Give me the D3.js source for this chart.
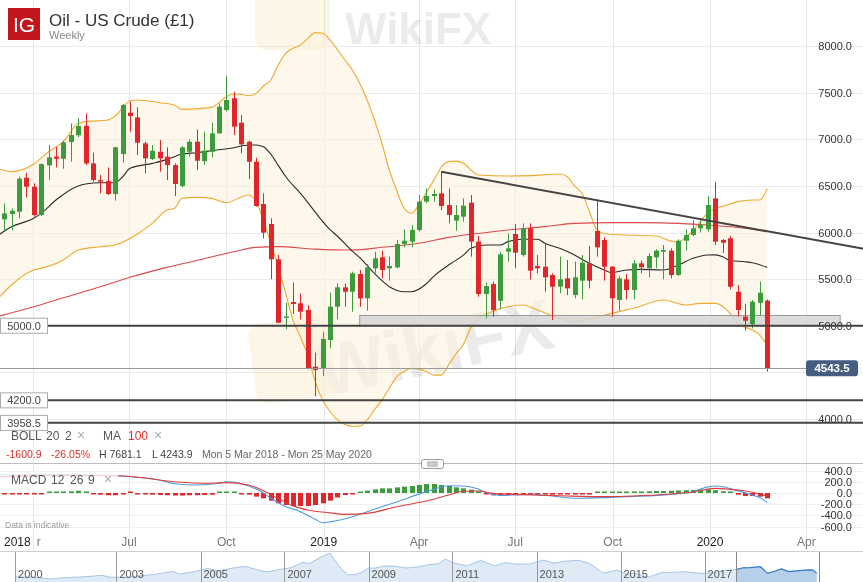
<!DOCTYPE html>
<html><head><meta charset="utf-8">
<script src="https://cdn.jsdelivr.net/npm/d3@7/dist/d3.min.js"></script>
<style>body{margin:0;background:#fff;}svg{display:block;font-family:"Liberation Sans",Arial,Helvetica,sans-serif;}</style>
</head><body><svg id="c" width="863" height="582"></svg>
<script>
// ---------- DATA ----------
const dates = ["2018-03-05","2018-03-12","2018-03-19","2018-03-26","2018-04-02","2018-04-09","2018-04-16","2018-04-23","2018-04-30","2018-05-07","2018-05-14","2018-05-21","2018-05-28","2018-06-04","2018-06-11","2018-06-18","2018-06-25","2018-07-02","2018-07-09","2018-07-16","2018-07-23","2018-07-30","2018-08-06","2018-08-13","2018-08-20","2018-08-27","2018-09-03","2018-09-10","2018-09-17","2018-09-24","2018-10-01","2018-10-08","2018-10-15","2018-10-22","2018-10-29","2018-11-05","2018-11-12","2018-11-19","2018-11-26","2018-12-03","2018-12-10","2018-12-17","2018-12-24","2018-12-31","2019-01-07","2019-01-14","2019-01-21","2019-01-28","2019-02-04","2019-02-11","2019-02-18","2019-02-25","2019-03-04","2019-03-11","2019-03-18","2019-03-25","2019-04-01","2019-04-08","2019-04-15","2019-04-22","2019-04-29","2019-05-06","2019-05-13","2019-05-20","2019-05-27","2019-06-03","2019-06-10","2019-06-17","2019-06-24","2019-07-01","2019-07-08","2019-07-15","2019-07-22","2019-07-29","2019-08-05","2019-08-12","2019-08-19","2019-08-26","2019-09-02","2019-09-09","2019-09-16","2019-09-23","2019-09-30","2019-10-07","2019-10-14","2019-10-21","2019-10-28","2019-11-04","2019-11-11","2019-11-18","2019-11-25","2019-12-02","2019-12-09","2019-12-16","2019-12-23","2019-12-30","2020-01-06","2020-01-13","2020-01-20","2020-01-27","2020-02-03","2020-02-10","2020-02-17","2020-02-24"];
const open  = [6141,6198,6223,6588,6491,6187,6720,6813,6791,6970,7042,7145,6741,6562,6552,6412,6841,7285,7235,6956,6788,6866,6813,6723,6498,6866,6974,6766,6866,7063,7313,7439,7177,6974,6759,6305,6091,5712,5090,5254,5240,5169,4561,4543,4847,5204,5412,5365,5555,5294,5616,5734,5616,5626,5877,5902,6027,6331,6391,6420,6295,6127,6170,6320,5902,5340,5447,5268,5794,5984,5758,6045,5641,5633,5544,5419,5508,5330,5483,5669,6016,5919,5633,5276,5498,5383,5669,5616,5734,5794,5805,5544,5912,5973,6045,6034,6366,5920,5938,5365,5097,5018,5247,5269];
const high  = [6312,6259,6598,6641,6527,6741,6938,6920,6985,7170,7224,7277,6856,6616,6698,6920,7378,7403,7342,6974,6938,6992,6913,6741,6927,6999,7106,7081,7177,7385,7681.1,7510,7260,6985,6802,6420,6152,5759,5247,5462,5347,5219,4711,4936,5354,5455,5455,5580,5598,5662,5794,5805,5741,5920,6034,6080,6402,6473,6463,6652,6473,6295,6366,6402,5962,5462,5473,5794,5991,6091,6098,6098,5758,5884,5562,5741,5705,5687,5758,5855,6348,5948,5640,5533,5555,5705,5698,5777,5819,5866,5830,5927,6034,6134,6130,6391,6545,5930,5963,5437,5233,5276,5473,5283];
const low   = [6019,6026,6151,6377,6169,6176,6562,6698,6684,6759,7020,6723,6545,6420,6402,6341,6748,7081,6831,6634,6777,6652,6563,6391,6484,6813,6670,6723,6806,7056,7296,7045,6849,6573,6277,5937,5500,5026,4961,5126,5069,4532,4243.9,4461,4758,5069,5204,5151,5204,5162,5562,5508,5483,5615,5841,5841,6009,6313,6331,6241,6098,6020,6116,5741,5311,5079,5097,5176,5687,5616,5741,5497,5562,5365,5061,5347,5330,5294,5283,5401,5741,5483,5097,5161,5283,5283,5562,5519,5616,5497,5508,5533,5805,5962,6000,6009,5866,5780,5390,5097,4947,4972,5115,4508];
const close = [6205,6234,6577,6491,6187,6734,6806,6791,6967,7045,7142,6741,6562,6545,6412,6913,7367,7249,6963,6795,6877,6795,6723,6520,6913,6974,6770,6877,7063,7349,7421,7135,6945,6759,6284,5998,5712,5032,5100,5233,5151,4543,4525,4858,5204,5412,5365,5562,5294,5626,5723,5598,5641,5877,5912,6027,6331,6391,6413,6284,6188,6188,6288,5902,5340,5426,5168,5766,5830,5784,6045,5591,5616,5519,5419,5498,5401,5519,5676,5483,5841,5633,5294,5508,5383,5669,5626,5748,5805,5812,5544,5912,5973,6045,6080,6295,5902,5891,5419,5169,5054,5258,5354,4543.5];

// Bollinger (20,2) and MA lines: [week number (1 = first candle), value]
const bbUpper = [[0,6690],[2,6652],[5,6734],[7,6866],[9,6974],[11,7170],[12,7188],[15,7206],[16,7249],[18,7413],[19,7421],[22,7392],[24,7367],[25,7320],[29,7342],[31,7456],[32,7485],[33,7482],[34,7467],[35,7492],[36,7571],[37,7635],[38,7796],[39,7922],[40,7975],[41,8011],[42,8082],[43,8143],[44,8136],[45,8064],[47,7850],[48,7743],[49,7600],[50,7421],[51,7206],[52,6956],[53,6670],[54,6450],[55,6260],[56,6206],[57,6300],[58,6430],[59,6560],[60,6700],[61,6760],[62,6765],[63,6742],[65,6617],[69,6606],[72,6610],[76,6627],[77,6600],[78,6500],[79,6420],[80,6230],[81,6030],[82,5990],[85,5973],[89,5962],[91,5910],[92,5895],[93,5950],[94,6020],[95,6120],[96,6210],[97,6260],[98,6280],[100,6331],[102,6348],[103,6348],[104,6470]];
const bbMiddle = [[0,5960],[2,6062],[5,6152],[6,6205],[8,6348],[11,6498],[12,6520],[14,6534],[16,6534],[17,6598],[18,6688],[21,6741],[23,6784],[24,6813],[25,6841],[27,6856],[29,6877],[32,6909],[34,6938],[35,6938],[36,6920],[37,6840],[38,6720],[39,6600],[41,6420],[45,6030],[46,5960],[48,5800],[49,5730],[51,5560],[53,5419],[55,5365],[56,5365],[58,5450],[59,5530],[61,5651],[63,5758],[64,5830],[66,5866],[68,5866],[69,5902],[71,5927],[73,5927],[74,5884],[76,5830],[78,5758],[80,5669],[82,5598],[83,5569],[85,5598],[87,5605],[90,5598],[92,5651],[94,5723],[96,5758],[97,5760],[98,5741],[99,5700],[101,5687],[102,5676],[104,5626]];
const bbLower = [[0,5276],[2,5437],[5,5597],[6,5615],[9,5705],[11,5812],[14,5848],[16,5866],[19,5984],[21,6098],[23,6241],[24,6259],[25,6366],[27,6377],[29,6366],[31,6320],[33,6377],[34,6402],[35,6330],[36,6134],[37,5884],[38,5633],[39,5348],[40,5061],[41,4880],[42,4680],[43,4400],[44,4200],[45,4080],[46,3990],[47,3940],[48,3920],[49,3925],[50,3990],[51,4100],[52,4203],[53,4330],[54,4454],[55,4510],[56,4543],[57,4535],[58,4510],[59,4470],[60,4470],[61,4580],[62,4700],[63,4800],[64,4980],[65,5080],[66,5120],[69,5204],[71,5222],[73,5169],[76,5079],[78,5044],[80,5069],[83,5133],[86,5187],[90,5276],[93,5222],[95,5240],[97,5240],[99,5133],[100,5026],[102,4954],[103,4900],[104,4793]];
const ma100 = [[0,5097],[5,5204],[9,5300],[14,5419],[18,5520],[23,5626],[27,5700],[32,5794],[35,5841],[38,5848],[43,5822],[48,5812],[52,5841],[57,5884],[61,5948],[65,5990],[69,6027],[74,6063],[78,6098],[83,6106],[87,6106],[92,6098],[96,6080],[101,6045],[104,6009]];

// MACD (12,26,9)
const macdLine = [[0,321],[8,330],[13,320],[17,304],[19,280],[22,232],[24,165],[27,143],[30,173],[31,200],[32,195],[33,165],[35,70],[36,0],[37,-95],[39,-240],[41,-333],[43,-470],[44,-530],[45,-515],[48,-423],[50,-333],[52,-244],[54,-160],[57,-20],[59,65],[61,130],[63,125],[65,70],[66,10],[68,-42],[70,-35],[72,-24],[75,-54],[78,-95],[82,-83],[85,-65],[91,-24],[94,25],[96,110],[97,125],[98,113],[100,42],[102,-36],[103,-80],[104,-167]];
const signalLine = [[0,290],[8,310],[13,312],[17,304],[24,202],[28,173],[31,185],[34,143],[36,40],[38,-100],[40,-230],[42,-304],[45,-355],[47,-381],[50,-363],[54,-244],[59,-113],[61,-36],[63,30],[65,36],[67,-6],[70,-24],[77,-54],[82,-65],[86,-54],[91,-18],[94,18],[97,83],[100,54],[102,13],[104,-54]];
const macdHist = [-15,-15,-10,-10,-15,-5,5,10,15,30,40,15,-10,-30,-40,-40,-15,0,-5,-25,-30,-35,-40,-45,-45,-40,-40,-35,-30,10,15,5,-5,-30,-65,-95,-137,-184,-214,-232,-232,-232,-214,-184,-137,-80,-36,-15,5,42,65,83,83,100,113,125,143,161,161,143,125,101,83,60,30,-25,-42,-42,-36,-36,-25,-20,-20,-25,-30,-25,-20,-15,-10,-5,10,10,10,12,5,5,20,30,35,35,40,45,50,55,60,65,50,30,10,-30,-55,-55,-65,-95];

// drawings / levels
const trendDates = ["2019-04-22","2020-05-25"], trendVals = [6652, 5825];
const zoneDates = ["2019-02-04","2020-05-03"], zoneVals = [5000, 5110];
const levels = [5000, 4200, 3958.5];
const lastPrice = 4543.5;
const priceTicks = [8000,7500,7000,6500,6000,5500,5000,4000];
const gridVals = [4000,4500,5000,5500,6000,6500,7000,7500,8000];
const macdTicks = [400,200,0,-200,-400,-600];
const monthTicks = ["2018-04-01","2018-07-01","2018-10-01","2019-01-01","2019-04-01","2019-07-01","2019-10-01","2020-01-01","2020-04-01"];
const monthLabels = ["r","Jul","Oct","2019","Apr","Jul","Oct","2020","Apr"];   // first "Apr" is hidden behind "2018", only its "r" shows
const firstYearLabel = "2018";

// navigator (long history)
const navDates = ["2001-01","2001-06","2001-11","2002-03","2002-09","2003-02","2003-04","2003-09","2004-01","2004-05","2004-10","2004-12","2005-04","2005-08","2005-11","2006-04","2006-07","2006-11","2007-01","2007-05","2007-08","2007-11","2008-01","2008-03","2008-05","2008-07","2008-08","2008-10","2008-12","2009-02","2009-04","2009-06","2009-08","2009-10","2010-01","2010-05","2010-08","2010-11","2011-02","2011-04","2011-06","2011-10","2012-02","2012-06","2012-09","2012-12","2013-04","2013-08","2013-11","2014-02","2014-06","2014-09","2014-11","2015-01","2015-05","2015-08","2015-10","2016-01","2016-02","2016-06","2016-10","2016-12","2017-03","2017-06","2017-09","2017-12","2018-03","2018-05","2018-07","2018-10","2018-12","2019-02","2019-04","2019-06","2019-09","2019-12","2020-01","2020-02"];
const navVals = [29,27,19,25,29,36,27,27,34,40,54,42,52,68,57,72,77,58,52,64,72,96,90,108,126,140,115,70,38,39,50,70,70,78,80,70,75,85,90,112,95,80,105,80,95,88,88,107,93,102,106,92,70,46,60,40,47,30,28,50,50,53,48,44,50,60,62,71,72,76,45,55,66,53,58,61,60,45];
const navTickDates = ["2001-01-01","2003-06-01","2005-06-01","2007-06-01","2009-06-01","2011-06-01","2013-06-01","2015-06-01","2017-06-01"];
const navTickLabels = ["2000","2003","2005","2007","2009","2011","2013","2015","2017"];

// ---------- CHART ----------
const W = 863, H = 582;
const svg = d3.select("#c");
const parse = d3.utcParse("%Y-%m-%d");
const parseM = d3.utcParse("%Y-%m");
const x = d3.scaleUtc().domain([parse("2018-07-01"), parse("2020-01-01")]).range([129, 710]);
const y = d3.scaleLinear().domain([4000, 8000]).range([419, 46]);
const ym = d3.scaleLinear().domain([-600, 400]).range([526.6, 470.6]);
const t0 = parse(dates[0]);
const wx = n => x(d3.utcDay.offset(t0, (n - 1) * 7));
const GREEN = "#3b9c3b", RED = "#e0252b";

svg.append("rect").attr("width", W).attr("height", H).attr("fill", "#fff");

// grid
const grid = svg.append("g");
grid.selectAll(".vg").data(monthTicks).join("line")
  .attr("x1", d => Math.round(x(parse(d))) + 0.5).attr("x2", d => Math.round(x(parse(d))) + 0.5)
  .attr("y1", 0).attr("y2", 550).attr("stroke", "#e6e6e6");
grid.selectAll(".hg").data(gridVals).join("line")
  .attr("x1", 0).attr("x2", W).attr("y1", d => Math.round(y(d)) + 0.5).attr("y2", d => Math.round(y(d)) + 0.5)
  .attr("stroke", "#ebebeb");
grid.selectAll(".mg").data(macdTicks).join("line")
  .attr("x1", 0).attr("x2", W).attr("y1", d => Math.round(ym(d)) + 0.5).attr("y2", d => Math.round(ym(d)) + 0.5)
  .attr("stroke", "#efefef");

// watermarks
const wm = svg.append("g").attr("opacity", 0.17);
wm.append("rect").attr("x", 255).attr("y", -35).attr("width", 75).attr("height", 85).attr("rx", 12).attr("fill", "#f2c26a");
wm.append("text").attr("x", 345).attr("y", 44).attr("font-size", 44).attr("font-weight", "bold").attr("fill", "#8a8a8a").text("WikiFX");
wm.append("g").attr("transform", "translate(292,360) rotate(-8)")
  .append("rect").attr("x", -40).attr("y", -40).attr("width", 80).attr("height", 80).attr("rx", 12).attr("fill", "#f2c26a");
wm.append("text").attr("transform", "translate(440,372) rotate(-12)").attr("text-anchor", "middle")
  .attr("font-size", 72).attr("font-weight", "bold").attr("fill", "#8a8a8a").text("WikiFX");

// price panel
svg.append("clipPath").attr("id", "pc").append("rect").attr("x", 0).attr("y", 0).attr("width", W).attr("height", 428);
const P = svg.append("g").attr("clip-path", "url(#pc)");
const ln = d3.line().x(d => wx(d[0])).y(d => y(d[1])).curve(d3.curveMonotoneX);
const upPath = ln(bbUpper);
const loRev = ln(bbLower.slice().reverse());
P.append("path").attr("d", upPath + "L" + loRev.slice(1) + "Z").attr("fill", "#fdf0dc").attr("opacity", 0.55);
P.append("path").attr("d", upPath).attr("fill", "none").attr("stroke", "#f0a92e").attr("stroke-width", 1.1);
P.append("path").attr("d", ln(bbLower)).attr("fill", "none").attr("stroke", "#f0a92e").attr("stroke-width", 1.1);
P.append("path").attr("d", ln(ma100)).attr("fill", "none").attr("stroke", "#d94a4a").attr("stroke-width", 1.1);
P.append("path").attr("d", ln(bbMiddle)).attr("fill", "none").attr("stroke", "#2b2b2b").attr("stroke-width", 1.1);

// zone
P.append("rect").attr("x", x(parse(zoneDates[0]))).attr("y", y(zoneVals[1]))
  .attr("width", x(parse(zoneDates[1])) - x(parse(zoneDates[0]))).attr("height", y(zoneVals[0]) - y(zoneVals[1]))
  .attr("fill", "#d6d6d6").attr("fill-opacity", 0.85).attr("stroke", "#9a9a9a");

// candles
const idx = d3.range(dates.length);
const cg = P.append("g");
cg.selectAll("line").data(idx).join("line")
  .attr("x1", i => Math.round(x(parse(dates[i]))) + 0.5).attr("x2", i => Math.round(x(parse(dates[i]))) + 0.5)
  .attr("y1", i => y(high[i])).attr("y2", i => y(low[i]))
  .attr("stroke", i => close[i] >= open[i] ? GREEN : RED).attr("stroke-width", 1);
cg.selectAll("rect").data(idx).join("rect")
  .attr("x", i => Math.round(x(parse(dates[i]))) - 2).attr("width", 5)
  .attr("y", i => y(Math.max(open[i], close[i])))
  .attr("height", i => Math.max(1.5, Math.abs(y(open[i]) - y(close[i]))))
  .attr("fill", i => close[i] >= open[i] ? GREEN : RED);

// right axis labels (under level lines)
svg.append("g").selectAll("text").data(priceTicks).join("text")
  .attr("x", 852).attr("y", d => y(d) + 4).attr("text-anchor", "end").attr("font-size", 11).attr("fill", "#333")
  .text(d => d.toFixed(1));

// last price line
svg.append("line").attr("x1", 0).attr("x2", 806).attr("y1", Math.round(y(lastPrice)) + 0.5).attr("y2", Math.round(y(lastPrice)) + 0.5)
  .attr("stroke", "#9a9a9a");

// levels
svg.append("g").selectAll("line").data(levels).join("line")
  .attr("x1", 48).attr("x2", W).attr("y1", d => y(d)).attr("y2", d => y(d)).attr("stroke", "#444").attr("stroke-width", 2);
const lg = svg.append("g").selectAll("g").data(levels).join("g");
lg.append("rect").attr("x", 0.5).attr("y", d => y(d) - 7.5).attr("width", 47).attr("height", 15).attr("fill", "#fff").attr("stroke", "#aaa");
lg.append("text").attr("x", 24).attr("y", d => y(d) + 4).attr("text-anchor", "middle").attr("font-size", 11).attr("fill", "#444").text(d => d.toFixed(1));

// trendline
svg.append("line").attr("x1", x(parse(trendDates[0]))).attr("y1", y(trendVals[0]))
  .attr("x2", x(parse(trendDates[1]))).attr("y2", y(trendVals[1])).attr("stroke", "#454545").attr("stroke-width", 2);

// last price tag
svg.append("rect").attr("x", 806).attr("y", y(lastPrice) - 8).attr("width", 52).attr("height", 16).attr("rx", 3).attr("fill", "#445d80");
svg.append("text").attr("x", 832).attr("y", y(lastPrice) + 4).attr("text-anchor", "middle").attr("font-size", 11.5)
  .attr("font-weight", "bold").attr("fill", "#fff").text(lastPrice.toFixed(1));

// header
svg.append("rect").attr("x", 8).attr("y", 8).attr("width", 32).attr("height", 32).attr("fill", "#c0171d");
svg.append("text").attr("x", 24).attr("y", 32).attr("text-anchor", "middle").attr("font-size", 21).attr("fill", "#fff").text("IG");
svg.append("text").attr("x", 49).attr("y", 26).attr("font-size", 17).attr("fill", "#333").text("Oil - US Crude (£1)");
svg.append("text").attr("x", 49).attr("y", 39).attr("font-size", 11).attr("fill", "#8a8a8a").text("Weekly");

// legend row
const leg = [["BOLL",11,"#555"],["20",46,"#555"],["2",65,"#555"],["×",77,"#aaa"],["MA",103,"#555"],["100",128,"#d9302c"],["×",154,"#aaa"]];
svg.append("g").selectAll("text").data(leg).join("text").attr("x", d => d[1]).attr("y", 440)
  .attr("font-size", d => d[0] === "×" ? 14 : 12).attr("fill", d => d[2]).text(d => d[0]);
const info = [["-1600.9",6,"#d9302c"],["-26.05%",51,"#d9302c"],["H 7681.1",99,"#444"],["L 4243.9",152,"#444"],["Mon 5 Mar 2018 - Mon 25 May 2020",202,"#666"]];
svg.append("g").selectAll("text").data(info).join("text").attr("x", d => d[1]).attr("y", 458)
  .attr("font-size", 10.5).attr("fill", d => d[2]).text(d => d[0]);

// separator & handle
svg.append("line").attr("x1", 0).attr("x2", W).attr("y1", 463.5).attr("y2", 463.5).attr("stroke", "#bdbdbd");
svg.append("rect").attr("x", 421.5).attr("y", 459.5).attr("width", 22).attr("height", 9).attr("rx", 2).attr("fill", "#fff").attr("stroke", "#999");
[462, 464, 466].forEach(v => svg.append("line").attr("x1", 427).attr("x2", 438).attr("y1", v).attr("y2", v).attr("stroke", "#777").attr("stroke-width", 0.8));

// MACD panel
svg.append("clipPath").attr("id", "mc").append("rect").attr("x", 0).attr("y", 465).attr("width", W).attr("height", 66);
const M = svg.append("g").attr("clip-path", "url(#mc)");
M.selectAll("rect").data(idx).join("rect")
  .attr("x", i => Math.round(x(parse(dates[i]))) - 2).attr("width", 5)
  .attr("y", i => macdHist[i] >= 0 ? Math.min(ym(macdHist[i]), ym(0) - 1.5) : ym(0))
  .attr("height", i => Math.max(1.5, Math.abs(ym(macdHist[i]) - ym(0))))
  .attr("fill", i => macdHist[i] > 0 ? GREEN : RED);
const lm = d3.line().x(d => wx(d[0])).y(d => ym(d[1])).curve(d3.curveMonotoneX);
M.append("path").attr("d", lm(macdLine)).attr("fill", "none").attr("stroke", "#4f9be0").attr("stroke-width", 1.1);
M.append("path").attr("d", lm(signalLine)).attr("fill", "none").attr("stroke", "#e03c3c").attr("stroke-width", 1.1);
svg.append("rect").attr("x", 0).attr("y", 472).attr("width", 118).attr("height", 17).attr("fill", "#fff").attr("opacity", 0.75);
const ml = [["MACD",11,"#555"],["12",51,"#555"],["26",70,"#555"],["9",88,"#555"],["×",104,"#aaa"]];
svg.append("g").selectAll("text").data(ml).join("text").attr("x", d => d[1]).attr("y", 484)
  .attr("font-size", d => d[0] === "×" ? 14 : 12).attr("fill", d => d[2]).text(d => d[0]);
svg.append("g").selectAll("text").data(macdTicks).join("text")
  .attr("x", 852).attr("y", d => ym(d) + 4).attr("text-anchor", "end").attr("font-size", 11).attr("fill", "#333")
  .text(d => d.toFixed(1));
svg.append("text").attr("x", 5).attr("y", 528).attr("font-size", 8.5).attr("fill", "#999").text("Data is indicative");

// x axis labels
svg.append("g").selectAll("text").data(monthTicks).join("text")
  .attr("x", (d, i) => i === 0 ? x(parse(d)) + 6 : x(parse(d))).attr("y", 546).attr("text-anchor", "middle").attr("font-size", 12)
  .attr("fill", (d, i) => /^\d/.test(monthLabels[i]) ? "#222" : "#777").text((d, i) => monthLabels[i]);
svg.append("text").attr("x", 4).attr("y", 546).attr("font-size", 12).attr("fill", "#222").text(firstYearLabel);

// navigator
const nx = d3.scaleUtc().domain([parse("2008-07-01"), parse("2018-07-01")]).range([330, 750]);
const ny = d3.scaleLinear().domain([0, 140]).range([583, 553]);
const nd = navDates.map((d, i) => [parseM(d), navVals[i]]);
const N = svg.append("g");
N.append("line").attr("x1", 0).attr("x2", W).attr("y1", 551.5).attr("y2", 551.5).attr("stroke", "#cfcfcf");
const area = d3.area().x(d => nx(d[0])).y0(583).y1(d => ny(d[1]));
const nline = d3.line().x(d => nx(d[0])).y(d => ny(d[1]));
N.append("path").attr("d", area(nd)).attr("fill", "#deeaf6");
N.append("path").attr("d", nline(nd)).attr("fill", "none").attr("stroke", "#a7c5e4");
const s0 = nx(parse(dates[0])), s1 = nx(parse(dates[dates.length - 1]));
N.append("clipPath").attr("id", "sc").append("rect").attr("x", s0).attr("y", 552).attr("width", s1 - s0).attr("height", 31);
const S = N.append("g").attr("clip-path", "url(#sc)");
S.append("path").attr("d", area(nd)).attr("fill", "#b6cfea");
S.append("path").attr("d", nline(nd)).attr("fill", "none").attr("stroke", "#3b7ac6").attr("stroke-width", 1.2);
N.selectAll(".nt").data(navTickDates).join("line")
  .attr("x1", d => Math.round(nx(parse(d))) + 0.5).attr("x2", d => Math.round(nx(parse(d))) + 0.5)
  .attr("y1", 552).attr("y2", 582).attr("stroke", "#9a9a9a");
[s0, s1].forEach(v => N.append("line").attr("x1", Math.round(v) + 0.5).attr("x2", Math.round(v) + 0.5).attr("y1", 552).attr("y2", 582).attr("stroke", "#888"));
N.selectAll(".nl").data(navTickDates).join("text")
  .attr("x", d => nx(parse(d)) + 3).attr("y", 578).attr("font-size", 11).attr("fill", "#555").text((d, i) => navTickLabels[i]);
</script></body></html>
